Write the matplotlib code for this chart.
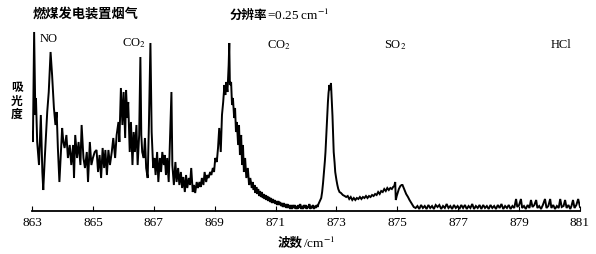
import matplotlib
matplotlib.use("Agg")
import matplotlib.pyplot as plt

plt.rcParams['mathtext.fontset'] = 'stix'
plt.rcParams['font.family'] = ['Liberation Serif', 'DejaVu Sans']

# 光谱数据 (波数 cm-1, 吸光度 任意单位)
wn_no = [863.00, 863.03, 863.07, 863.11, 863.13, 863.17, 863.23, 863.29, 863.34, 863.37,
         863.42, 863.46, 863.50, 863.55, 863.61, 863.66, 863.72, 863.77, 863.81, 863.85,
         863.90, 863.94, 863.99, 864.03, 864.07, 864.13, 864.18, 864.24, 864.29, 864.35,
         864.38, 864.42, 864.48, 864.53, 864.59, 864.63, 864.69, 864.74, 864.80, 864.84,
         864.90, 864.95, 865.00, 865.06]
ab_no = [79, 69, 179, 96, 113, 69, 46, 96, 39, 21,
         53, 76, 99, 119, 159, 136, 103, 86, 99, 63,
         29, 53, 83, 69, 63, 76, 53, 66, 46, 66,
         33, 76, 53, 69, 46, 86, 53, 43, 59, 29,
         69, 46, 53, 59]

wn_co2a = [865.12, 865.17, 865.22, 865.27, 865.32, 865.37, 865.41, 865.46, 865.51, 865.56,
           865.62, 865.67, 865.73, 865.78, 865.84, 865.87, 865.92, 865.97, 866.01, 866.06,
           866.09, 866.13, 866.16, 866.21, 866.25, 866.30, 866.34, 866.38, 866.43, 866.47,
           866.52, 866.56, 866.59, 866.62, 866.67, 866.71, 866.75, 866.80, 866.84, 866.89,
           866.93, 866.98, 867.02, 867.06, 867.11, 867.15, 867.20, 867.24, 867.28, 867.33]
ab_co2a = [61, 39, 56, 33, 63, 43, 61, 36, 61, 46,
           59, 73, 53, 76, 89, 69, 123, 86, 119, 73,
           121, 93, 109, 59, 89, 46, 79, 59, 86, 46,
           76, 154, 76, 59, 53, 73, 43, 33, 86, 168,
           79, 43, 53, 36, 59, 29, 53, 39, 59, 46]

wn_mid = [867.36, 867.40, 867.44, 867.49, 867.53, 867.58, 867.61, 867.66, 867.71, 867.75,
          867.80, 867.84, 867.89, 867.93, 867.97, 868.02, 868.06, 868.10, 868.15, 868.19,
          868.23, 868.28, 868.32, 868.36, 868.41, 868.45, 868.50, 868.54, 868.58, 868.63,
          868.67, 868.72, 868.76, 868.80, 868.85, 868.89, 868.94, 868.98, 869.02, 869.07,
          869.11, 869.15, 869.20, 869.24, 869.28, 869.32, 869.35, 869.38, 869.42, 869.46,
          869.48]
ab_mid = [56, 36, 53, 29, 69, 119, 46, 26, 49, 29,
          43, 26, 39, 23, 34, 19, 36, 23, 33, 26,
          43, 19, 26, 18, 29, 23, 29, 24, 33, 26,
          39, 29, 36, 33, 39, 36, 43, 39, 53, 49,
          63, 83, 59, 96, 109, 126, 116, 129, 119, 146,
          168]

wn_co2b = [869.50, 869.54, 869.57, 869.60, 869.64, 869.67, 869.70, 869.73, 869.77, 869.80,
           869.83, 869.87, 869.90, 869.93, 869.96, 870.00, 870.04, 870.09, 870.13, 870.17,
           870.22, 870.25, 870.28, 870.31, 870.34, 870.37, 870.40, 870.43, 870.46, 870.49,
           870.52, 870.55, 870.58, 870.61, 870.64, 870.67, 870.70, 870.73, 870.76, 870.79,
           870.82, 870.85, 870.88, 870.91, 870.94, 870.97, 871.00, 871.03, 871.06, 871.09,
           871.12, 871.15, 871.18, 871.21, 871.24, 871.27, 871.30, 871.33, 871.36, 871.39,
           871.42, 871.45, 871.48, 871.51, 871.54, 871.57, 871.60, 871.63, 871.66]
ab_co2b = [126, 129, 106, 113, 93, 103, 79, 89, 66, 86,
           56, 76, 46, 66, 39, 53, 33, 43, 26, 33,
           23, 29, 21, 26, 18, 24, 17, 22, 15, 20,
           14, 19, 13, 17, 12, 16, 11, 15, 10, 14,
           9, 13, 8, 12, 8, 11, 7, 10, 6, 10,
           6, 9, 5, 8, 4, 8, 4, 7, 3, 7,
           3, 6, 2, 6, 2, 6, 3, 6, 2]

wn_so2 = [871.69, 871.72, 871.75, 871.78, 871.81, 871.84, 871.87, 871.90, 871.93, 871.96,
          871.99, 872.02, 872.05, 872.08, 872.11, 872.14, 872.17, 872.20, 872.23, 872.26,
          872.29, 872.32, 872.35, 872.38, 872.41, 872.44, 872.50, 872.53, 872.56, 872.59,
          872.62, 872.64, 872.66, 872.68, 872.70, 872.72, 872.74, 872.77, 872.79, 872.80,
          872.82, 872.84, 872.85, 872.87, 872.88, 872.90, 872.91, 872.94, 872.96, 873.00,
          873.03, 873.06, 873.10, 873.15, 873.21, 873.27, 873.32, 873.37, 873.42, 873.47,
          873.52, 873.57, 873.62, 873.67, 873.72, 873.77, 873.82, 873.87, 873.92, 873.97,
          874.02, 874.07, 874.12, 874.17, 874.22, 874.27, 874.32, 874.37, 874.42, 874.47,
          874.52, 874.57, 874.62, 874.67, 874.72, 874.77, 874.82, 874.86, 874.90, 874.93,
          874.95, 874.98, 875.01, 875.05, 875.10, 875.14, 875.17, 875.21, 875.24, 875.29,
          875.35, 875.40, 875.46, 875.50, 875.54]
ab_so2 = [5, 2, 6, 3, 7, 2, 5, 2, 6, 3,
          6, 2, 5, 3, 7, 2, 5, 3, 6, 2,
          5, 3, 6, 4, 7, 9, 13, 19, 28, 39,
          50, 59, 72, 86, 98, 109, 118, 126, 121, 123,
          128, 115, 109, 95, 86, 70, 59, 48, 39, 31,
          26, 22, 19, 18, 16, 15, 14, 15, 12, 14,
          11, 13, 11, 13, 12, 14, 12, 14, 13, 15,
          13, 15, 14, 16, 15, 17, 16, 19, 17, 20,
          19, 22, 20, 23, 21, 23, 22, 24, 25, 29,
          11, 15, 18, 22, 25, 26, 26, 23, 21, 17,
          14, 11, 8, 6, 4]

wn_hcl = [875.60, 875.66, 875.72, 875.78, 875.84, 875.90, 875.96, 876.02, 876.08, 876.14,
          876.20, 876.26, 876.32, 876.38, 876.44, 876.50, 876.56, 876.62, 876.68, 876.74,
          876.80, 876.86, 876.92, 876.98, 877.04, 877.10, 877.16, 877.22, 877.28, 877.34,
          877.40, 877.46, 877.52, 877.58, 877.64, 877.70, 877.76, 877.82, 877.88, 877.94,
          878.00, 878.06, 878.12, 878.18, 878.24, 878.30, 878.36, 878.42, 878.48, 878.54,
          878.60, 878.66, 878.72, 878.78, 878.84, 878.90, 878.94, 879.00, 879.06, 879.10,
          879.16, 879.22, 879.28, 879.34, 879.39, 879.44, 879.50, 879.56, 879.60, 879.66,
          879.72, 879.78, 879.85, 879.90, 879.96, 880.02, 880.06, 880.12, 880.18, 880.24,
          880.30, 880.35, 880.40, 880.46, 880.51, 880.56, 880.62, 880.68, 880.72, 880.77,
          880.82, 880.88, 880.94, 881.00]
ab_hcl = [3, 5, 2, 6, 3, 5, 2, 6, 3, 5,
          2, 6, 4, 6, 2, 5, 3, 7, 3, 5,
          2, 6, 3, 5, 2, 6, 3, 6, 2, 5,
          3, 7, 2, 5, 3, 6, 2, 6, 3, 5,
          2, 6, 3, 5, 2, 6, 3, 7, 2, 5,
          3, 6, 2, 5, 3, 12, 4, 6, 12, 3,
          5, 2, 6, 3, 11, 4, 6, 11, 3, 5,
          2, 6, 12, 3, 5, 12, 3, 6, 2, 5,
          3, 12, 4, 5, 11, 3, 6, 2, 5, 11,
          3, 6, 12, 4]

wavenumber = wn_no + wn_co2a + wn_mid + wn_co2b + wn_so2 + wn_hcl
absorb = ab_no + ab_co2a + ab_mid + ab_co2b + ab_so2 + ab_hcl

xticks = [863, 865, 867, 869, 871, 873, 875, 877, 879, 881]

# 绘图
W, H = 596, 254
fig = plt.figure(figsize=(W / 100, H / 100), dpi=100)
ax = fig.add_axes([32 / W, 43 / H, 548 / W, 181 / H])
ax.plot(wavenumber, absorb, color='black', lw=1.4, solid_joinstyle='miter')
ax.set_xlim(863, 881)
ax.set_ylim(0, 181)
ax.set_xticks(xticks)
ax.set_yticks([])
for s in ['top', 'right', 'left']:
    ax.spines[s].set_visible(False)
ax.spines['bottom'].set_linewidth(1.3)
ax.tick_params(axis='x', direction='in', length=3.5, width=0.8, labelsize=9.5, pad=4)

cjk = ['Noto Sans CJK SC', 'DejaVu Sans']
serif = ['Liberation Serif', 'DejaVu Sans']

def fx(px):
    return px / W

def fy(py):
    return 1 - py / H

fig.text(fx(33), fy(14), '燃煤发电装置烟气', family=cjk, fontsize=9.5, weight='bold',
         ha='left', va='center')
fig.text(fx(230), fy(15), '分辨率', family=cjk, fontsize=9, weight='bold', ha='left', va='center')
fig.text(fx(267), fy(15), r'=0.25 cm$^{-1}$', family=serif, fontsize=9.5, ha='left', va='center')

fig.text(fx(17), fy(101), '吸\n光\n度', family=cjk, fontsize=8.5, weight='bold',
         ha='center', va='center', linespacing=1.0)
fig.text(fx(303), fy(243), '波数', family=cjk, fontsize=9, weight='bold', ha='right', va='center')
fig.text(fx(303), fy(243), r'/cm$^{-1}$', family=serif, fontsize=9.5, ha='left', va='center')

# 峰标注
for txt, px, py in [('NO', 49, 39), ('CO$_2$', 134, 43), ('CO$_2$', 279, 45),
                    ('SO$_2$', 395, 45), ('HCl', 561, 45)]:
    fig.text(fx(px), fy(py), txt, family=serif, fontsize=9, ha='center', va='center')

fig.savefig('out.png', dpi=100)
